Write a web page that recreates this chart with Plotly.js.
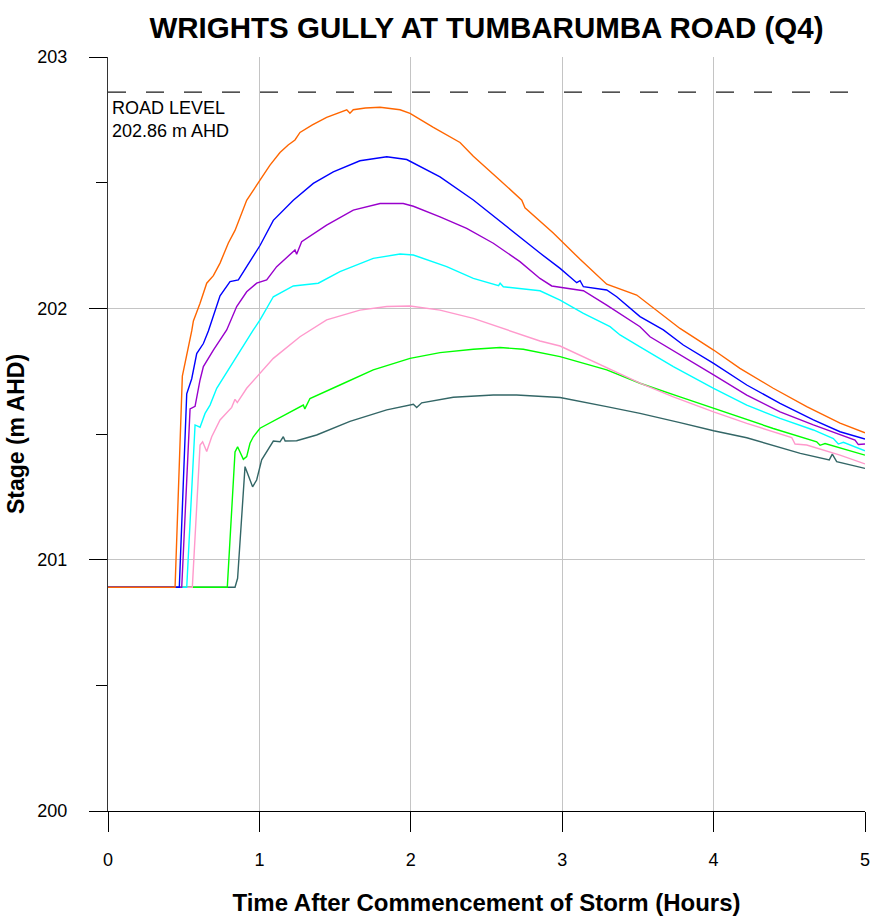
<!DOCTYPE html>
<html>
<head>
<meta charset="utf-8">
<script src="https://cdn.plot.ly/plotly-3.0.1.min.js"></script>
<style>html,body{margin:0;padding:0;background:#fff;}#chart{width:872px;height:918px;}</style>
</head>
<body>
<div id="chart"></div>
<script>
// ---- Data (time in hours, stage in m AHD) ----
const ROAD_LEVEL = 202.86;
const roadX = [0, 5];

const orangeT = [0,0.443,0.491,0.509,0.553,0.564,0.608,0.652,0.696,0.740,0.795,0.839,0.916,1.004,1.070,1.136,1.190,1.235,1.268,1.350,1.444,1.577,1.598,1.62,1.700,1.797,1.929,1.995,2.149,2.325,2.391,2.413,2.589,2.733,2.754,2.941,3.118,3.294,3.492,3.580,3.778,4.0,4.174,4.394,4.615,4.835,5.0];
const orangeH = [200.89,200.89,201.73,201.78,201.91,201.95,202.02,202.10,202.13,202.18,202.26,202.31,202.43,202.51,202.57,202.62,202.65,202.67,202.70,202.73,202.76,202.79,202.776,202.79,202.797,202.80,202.79,202.776,202.72,202.66,202.62,202.605,202.51,202.43,202.40,202.30,202.195,202.096,202.053,202.013,201.92,201.834,201.761,201.682,201.609,201.543,201.505];

const blueT = [0,0.471,0.520,0.553,0.586,0.630,0.663,0.674,0.740,0.806,0.861,0.916,1.004,1.092,1.224,1.356,1.488,1.664,1.841,1.973,2.193,2.413,2.633,2.853,2.986,3.096,3.118,3.14,3.294,3.36,3.514,3.668,3.80,4.0,4.219,4.439,4.659,4.835,5.0];
const blueH = [200.89,200.89,201.66,201.72,201.82,201.86,201.91,201.93,202.05,202.106,202.113,202.166,202.25,202.35,202.43,202.497,202.543,202.587,202.603,202.592,202.523,202.431,202.325,202.22,202.159,202.102,202.11,202.086,202.073,202.046,201.967,201.914,201.854,201.781,201.695,201.622,201.556,201.509,201.48];

const purpleT = [0,0.487,0.542,0.575,0.608,0.630,0.696,0.784,0.850,0.916,0.982,1.048,1.114,1.202,1.235,1.246,1.279,1.444,1.62,1.797,1.95,2.017,2.193,2.369,2.545,2.721,2.853,2.931,3.14,3.294,3.514,3.58,3.778,4.0,4.219,4.439,4.659,4.835,4.934,4.956,5.0];
const purpleH = [200.89,200.89,201.60,201.61,201.715,201.768,201.834,201.914,202.007,202.066,202.10,202.113,202.166,202.212,202.232,202.215,202.265,202.331,202.391,202.417,202.417,202.406,202.364,202.318,202.259,202.186,202.119,202.089,202.07,202.013,201.927,201.887,201.814,201.735,201.655,201.588,201.536,201.496,201.476,201.458,201.46];

const cyanT = [0,0.52,0.575,0.608,0.641,0.674,0.718,0.806,0.872,0.960,1.004,1.092,1.224,1.389,1.532,1.752,1.929,2.017,2.237,2.413,2.58,2.59,2.611,2.853,2.986,3.14,3.316,3.382,3.514,3.734,4.0,4.219,4.439,4.659,4.791,4.824,4.857,5.0];
const cyanH = [200.89,200.89,201.536,201.527,201.582,201.615,201.682,201.768,201.827,201.914,201.954,202.046,202.089,202.10,202.146,202.199,202.216,202.212,202.166,202.119,202.09,202.10,202.086,202.07,202.033,201.98,201.927,201.894,201.847,201.768,201.682,201.615,201.562,201.516,201.482,201.46,201.467,201.433];

const pinkT = [0,0.557,0.608,0.625,0.652,0.685,0.740,0.817,0.839,0.854,0.916,1.004,1.092,1.268,1.444,1.664,1.841,1.995,2.193,2.413,2.633,2.853,2.986,3.184,3.514,3.734,4.0,4.219,4.516,4.538,4.615,4.835,5.0];
const pinkH = [200.89,200.89,201.456,201.469,201.43,201.489,201.556,201.606,201.638,201.625,201.682,201.742,201.801,201.887,201.954,201.993,202.007,202.009,201.993,201.96,201.914,201.87,201.85,201.794,201.702,201.648,201.588,201.542,201.486,201.46,201.456,201.416,201.381];

const greenT = [0,0.788,0.839,0.856,0.894,0.916,0.938,0.960,1.004,1.136,1.29,1.30,1.334,1.532,1.752,1.995,2.193,2.413,2.589,2.743,2.986,3.294,3.514,3.778,4.0,4.394,4.681,4.703,4.736,5.0];
const greenH = [200.89,200.89,201.429,201.449,201.399,201.41,201.463,201.489,201.523,201.565,201.615,201.60,201.641,201.695,201.755,201.801,201.824,201.837,201.844,201.837,201.808,201.755,201.702,201.648,201.602,201.522,201.469,201.455,201.462,201.416];

const slateT = [0,0.839,0.856,0.905,0.955,0.982,1.015,1.059,1.092,1.136,1.158,1.17,1.246,1.378,1.598,1.841,1.973,2.017,2.039,2.072,2.281,2.545,2.699,2.986,3.294,3.514,3.778,4.0,4.219,4.573,4.764,4.784,4.813,5.0];
const slateH = [200.89,200.89,200.926,201.37,201.29,201.317,201.397,201.443,201.472,201.469,201.489,201.472,201.473,201.496,201.55,201.596,201.613,201.618,201.605,201.624,201.646,201.655,201.655,201.645,201.609,201.582,201.545,201.513,201.485,201.423,201.397,201.42,201.39,201.363];

const xTicks = [0,1,2,3,4,5];
const xTickText = ['0','1','2','3','4','5'];
const yTicks = [200,201,202,203];
const yTickText = ['200','201','202','203'];

// ---- Chart ----
const FONT = 'Liberation Sans, Arial, Helvetica, sans-serif';
const series = [
  {x: slateT, y: slateH, c: '#336666'},
  {x: greenT, y: greenH, c: '#00FF00'},
  {x: pinkT, y: pinkH, c: '#FF99CC'},
  {x: cyanT, y: cyanH, c: '#00FFFF'},
  {x: purpleT, y: purpleH, c: '#9900CC'},
  {x: blueT, y: blueH, c: '#0000FF'},
  {x: orangeT, y: orangeH, c: '#FF6600'}
];
const traces = [{
  x: roadX, y: roadX.map(() => ROAD_LEVEL), type: 'scatter', mode: 'lines',
  line: {color: '#1a1a1a', width: 1.3, dash: '18px,20px'}, hoverinfo: 'skip'
}];
series.forEach(s => traces.push({
  x: s.x, y: s.y, type: 'scatter', mode: 'lines',
  line: {color: s.c, width: 1.4}, hoverinfo: 'skip'
}));

const layout = {
  width: 872, height: 918,
  margin: {l: 108, r: 7, t: 57, b: 107},
  paper_bgcolor: '#ffffff', plot_bgcolor: '#ffffff',
  showlegend: false,
  font: {family: FONT, size: 18, color: '#000'},
  title: {
    text: '<b>WRIGHTS GULLY AT TUMBARUMBA ROAD (Q4)</b>',
    font: {family: FONT, size: 29.5, color: '#000'},
    x: 0.5, xref: 'paper', xanchor: 'center',
    y: 1 - 28/918, yref: 'container', yanchor: 'middle'
  },
  xaxis: {
    range: [0, 5], tickvals: xTicks, ticktext: xTickText,
    showgrid: true, gridcolor: '#c4c4c4', gridwidth: 1,
    showline: true, linecolor: '#000', linewidth: 1,
    ticks: 'outside', ticklen: 20, tickcolor: '#000', tickwidth: 1,
    ticklabelstandoff: 12,
    zeroline: false, fixedrange: true,
    tickfont: {family: FONT, size: 18, color: '#000'},
    title: {text: '<b>Time After Commencement of Storm (Hours)</b>',
            font: {family: FONT, size: 24, color: '#000'}, standoff: 25}
  },
  yaxis: {
    range: [200, 203], tickvals: yTicks, ticktext: yTickText,
    showgrid: true, gridcolor: '#c4c4c4', gridwidth: 1,
    showline: true, linecolor: '#333', linewidth: 1,
    ticks: 'outside', ticklen: 18, tickcolor: '#000', tickwidth: 1,
    ticklabelstandoff: 18,
    minor: {dtick: 0.5, tick0: 200, ticks: 'outside', ticklen: 11, tickcolor: '#000', tickwidth: 1, showgrid: false},
    zeroline: false, fixedrange: true,
    tickfont: {family: FONT, size: 18, color: '#000'},
    title: {text: '<b>Stage (m AHD)</b>',
            font: {family: FONT, size: 23, color: '#000'}, standoff: 6}
  },
  annotations: [{
    x: 0, y: ROAD_LEVEL, xref: 'x', yref: 'y',
    xanchor: 'left', yanchor: 'top', align: 'left',
    xshift: 2, yshift: -4, showarrow: false,
    text: 'ROAD LEVEL<br>202.86 m AHD',
    font: {family: FONT, size: 18, color: '#000'}
  }]
};

Plotly.newPlot('chart', traces, layout, {displayModeBar: false, staticPlot: true});
</script>
</body>
</html>
